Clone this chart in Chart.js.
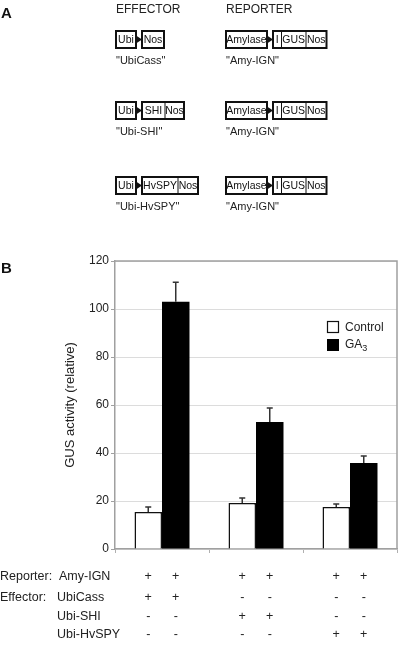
<!DOCTYPE html>
<html>
<head>
<meta charset="utf-8">
<script src="https://cdn.jsdelivr.net/npm/chart.js@4.4.1/dist/chart.umd.min.js"></script>
<style>
  html, body { margin: 0; padding: 0; background: #ffffff; }
  #wrap { position: relative; width: 400px; height: 647px; }
</style>
</head>
<body>
<div id="wrap"><canvas id="c"></canvas></div>
<script>
// ---- data ----
const categories = ['UbiCass', 'Ubi-SHI', 'Ubi-HvSPY'];
const seriesNames = ['Control', 'GA3'];
const controlValues = [15.4, 19.2, 17.5];
const controlErrors = [2.1, 2.0, 1.2];
const ga3Values = [103, 52.9, 35.8];
const ga3Errors = [8.1, 5.8, 2.9];
const yTicks = [0, 20, 40, 60, 80, 100, 120];
const yTitle = 'GUS activity (relative)';

// table under the chart (one sign per bar: Control, GA3 for each group)
const reporterSigns = ['+', '+', '+', '+', '+', '+'];
const ubiCassSigns  = ['+', '+', '-', '-', '-', '-'];
const ubiShiSigns   = ['-', '-', '+', '+', '-', '-'];
const ubiSpySigns   = ['-', '-', '-', '-', '+', '+'];

// panel A constructs
const effectorNames = ['"UbiCass"', '"Ubi-SHI"', '"Ubi-HvSPY"'];
const effectorParts = [['Nos'], ['SHI', 'Nos'], ['HvSPY', 'Nos']];
const reporterNames = ['"Amy-IGN"', '"Amy-IGN"', '"Amy-IGN"'];
const reporterParts = ['I', 'GUS', 'Nos'];

const FONT = "'Liberation Sans', Arial, Helvetica, sans-serif";
Chart.defaults.font.family = FONT;
Chart.defaults.color = '#222';

function drawConstruct(ctx, x, y, promoter, promW, parts, partWs) {
  const h = 17;
  ctx.save();
  ctx.strokeStyle = '#111';
  ctx.fillStyle = '#111';
  ctx.font = '10.5px ' + FONT;
  ctx.textBaseline = 'middle';
  ctx.textAlign = 'center';
  ctx.lineWidth = 2;
  ctx.strokeRect(x, y, promW, h);
  ctx.fillText(promoter, x + promW / 2, y + h / 2 + 0.5);
  // arrow
  const ax = x + promW;
  ctx.beginPath();
  ctx.moveTo(ax, y + h / 2 - 4);
  ctx.lineTo(ax + 6, y + h / 2);
  ctx.lineTo(ax, y + h / 2 + 4);
  ctx.closePath();
  ctx.fill();
  let bx = ax + 6;
  const total = partWs.reduce((a, b) => a + b, 0);
  ctx.lineWidth = 2;
  ctx.strokeRect(bx, y, total, h);
  ctx.lineWidth = 1;
  let px = bx;
  parts.forEach((p, i) => {
    ctx.fillText(p, px + partWs[i] / 2, y + h / 2 + 0.5);
    px += partWs[i];
    if (i < parts.length - 1) {
      ctx.beginPath();
      ctx.moveTo(px, y);
      ctx.lineTo(px, y + h);
      ctx.stroke();
    }
  });
  ctx.restore();
}

const extrasPlugin = {
  id: 'extras',
  afterDraw(chart) {
    const ctx = chart.ctx;
    const ca = chart.chartArea;
    const y = chart.scales.y;

    // plot frame (top & right)
    ctx.save();
    ctx.strokeStyle = '#a0a0a0';
    ctx.lineWidth = 1.5;
    ctx.beginPath();
    ctx.moveTo(ca.left, ca.top);
    ctx.lineTo(ca.right, ca.top);
    ctx.lineTo(ca.right, ca.bottom);
    ctx.stroke();
    ctx.restore();

    // error bars
    const errs = [controlErrors, ga3Errors];
    chart.data.datasets.forEach((ds, di) => {
      const meta = chart.getDatasetMeta(di);
      meta.data.forEach((bar, i) => {
        const top = y.getPixelForValue(ds.data[i] + errs[di][i]);
        ctx.save();
        ctx.strokeStyle = '#333';
        ctx.lineWidth = 1.5;
        ctx.beginPath();
        ctx.moveTo(bar.x, bar.y);
        ctx.lineTo(bar.x, top);
        ctx.moveTo(bar.x - 3, top);
        ctx.lineTo(bar.x + 3, top);
        ctx.stroke();
        ctx.restore();
      });
    });

    // legend
    ctx.save();
    ctx.font = '12px ' + FONT;
    ctx.textBaseline = 'middle';
    ctx.textAlign = 'left';
    ctx.fillStyle = '#ffffff';
    ctx.strokeStyle = '#111';
    ctx.lineWidth = 1.2;
    ctx.fillRect(327, 321, 12, 12);
    ctx.strokeRect(327.5, 321.5, 11, 11);
    ctx.fillStyle = '#000';
    ctx.fillRect(327, 339, 12, 12);
    ctx.fillStyle = '#222';
    ctx.fillText(seriesNames[0], 345, 327.5);
    ctx.fillText('GA', 345, 345);
    const gaW = ctx.measureText('GA').width;
    ctx.font = '9px ' + FONT;
    ctx.fillText('3', 345 + gaW, 349);
    ctx.restore();

    // panel letters
    ctx.save();
    ctx.fillStyle = '#111';
    ctx.font = 'bold 15px ' + FONT;
    ctx.textBaseline = 'alphabetic';
    ctx.textAlign = 'left';
    ctx.fillText('A', 1, 18);
    ctx.fillText('B', 1, 273);
    ctx.restore();

    // panel A
    ctx.save();
    ctx.fillStyle = '#222';
    ctx.font = '12px ' + FONT;
    ctx.textBaseline = 'middle';
    ctx.textAlign = 'left';
    ctx.fillText('EFFECTOR', 116, 10);
    ctx.fillText('REPORTER', 226, 10);
    const rowsY = [31, 102, 177];
    const effWs = [[22], [23, 19], [36, 20]];
    rowsY.forEach((ry, r) => {
      drawConstruct(ctx, 116, ry, 'Ubi', 20, effectorParts[r], effWs[r]);
      drawConstruct(ctx, 226, ry, 'Amylase', 41, reporterParts, [8.5, 24.5, 20.5]);
      ctx.fillStyle = '#222';
      ctx.font = '11px ' + FONT;
      ctx.textAlign = 'left';
      ctx.textBaseline = 'middle';
      ctx.fillText(effectorNames[r], 116, ry + 30);
      ctx.fillText(reporterNames[r], 226, ry + 30);
    });
    ctx.restore();

    // table under the chart
    const cols = [];
    const m0 = chart.getDatasetMeta(0), m1 = chart.getDatasetMeta(1);
    for (let g = 0; g < categories.length; g++) {
      cols.push(m0.data[g].x, m1.data[g].x);
    }
    ctx.save();
    ctx.fillStyle = '#222';
    ctx.font = '12.5px ' + FONT;
    ctx.textBaseline = 'middle';
    ctx.textAlign = 'left';
    const ty = [577, 598, 617, 635];
    ctx.fillText('Reporter:', 0, ty[0]);
    ctx.fillText('Amy-IGN', 59, ty[0]);
    ctx.fillText('Effector:', 0, ty[1]);
    ctx.fillText(categories[0], 57, ty[1]);
    ctx.fillText(categories[1], 57, ty[2]);
    ctx.fillText(categories[2], 57, ty[3]);
    ctx.textAlign = 'center';
    [reporterSigns, ubiCassSigns, ubiShiSigns, ubiSpySigns].forEach((row, r) => {
      row.forEach((s, i) => ctx.fillText(s, cols[i], ty[r]));
    });
    ctx.restore();
  }
};

new Chart(document.getElementById('c'), {
  type: 'bar',
  data: {
    labels: categories,
    datasets: [
      {
        label: seriesNames[0],
        data: controlValues,
        backgroundColor: '#ffffff',
        borderColor: '#111',
        borderWidth: 1.5,
        categoryPercentage: 0.585,
        barPercentage: 1.0
      },
      {
        label: seriesNames[1],
        data: ga3Values,
        backgroundColor: '#000000',
        borderColor: '#000000',
        borderWidth: 0,
        categoryPercentage: 0.585,
        barPercentage: 1.0
      }
    ]
  },
  options: {
    responsive: true,
    maintainAspectRatio: false,
    animation: false,
    layout: { padding: { top: 261, bottom: 94, left: 0, right: 3 } },
    plugins: {
      legend: { display: false },
      tooltip: { enabled: false }
    },
    scales: {
      x: {
        ticks: { display: false },
        grid: { drawOnChartArea: false, drawTicks: true, tickLength: 4, color: '#b0b0b0', offset: true },
        border: { color: '#a0a0a0', width: 1.5 }
      },
      y: {
        min: 0,
        max: 120,
        afterBuildTicks(scale) { scale.ticks = yTicks.map(v => ({ value: v })); },
        afterFit(scale) { scale.width = 115; },
        ticks: { font: { size: 12 }, color: '#222', padding: 2 },
        grid: { color: '#dcdcdc', lineWidth: 1, tickLength: 4, tickColor: '#a0a0a0' },
        border: { color: '#a0a0a0', width: 1.5 },
        title: {
          display: true,
          text: yTitle,
          font: { size: 13 },
          color: '#222',
          padding: { top: 63, bottom: 0 }
        }
      }
    }
  },
  plugins: [extrasPlugin]
});
</script>
</body>
</html>
